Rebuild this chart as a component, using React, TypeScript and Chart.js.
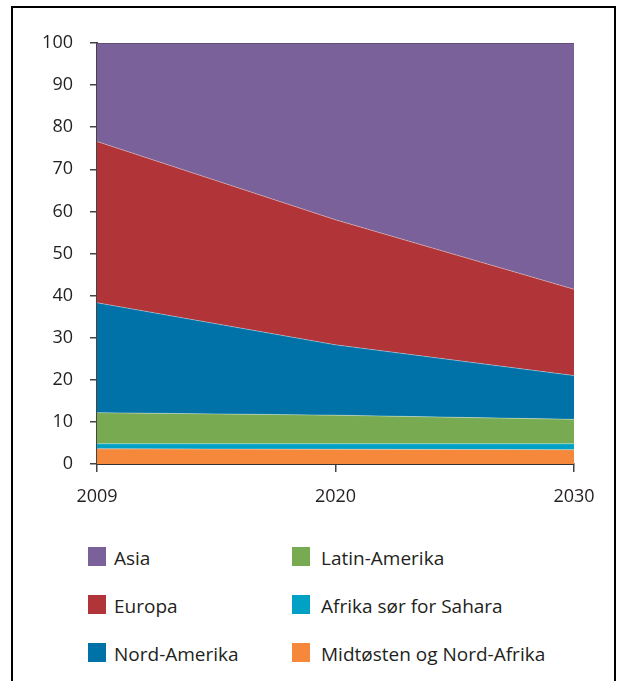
import React, { useEffect, useRef } from "react";
import { Chart, registerables } from "chart.js";

Chart.register(...registerables);

const years = ["2009", "2020", "2030"];
const midtostenNordAfrika = [3.6, 3.5, 3.4];
const afrikaSorForSahara = [1.2, 1.3, 1.4];
const latinAmerika = [7.4, 6.8, 5.8];
const nordAmerika = [26.1, 16.7, 10.4];
const europa = [38.3, 29.7, 20.5];
const asia = [23.4, 42.0, 58.5];
const yMin = 0;
const yMax = 100;
const yStep = 10;

const names = {
  asia: "Asia",
  europa: "Europa",
  nordAmerika: "Nord-Amerika",
  latinAmerika: "Latin-Amerika",
  afrika: "Afrika sør for Sahara",
  midtosten: "Midtøsten og Nord-Afrika",
};

const colors = {
  asia: "#7b6199",
  europa: "#b13538",
  nordAmerika: "#0072a8",
  latinAmerika: "#78ab51",
  afrika: "#00a1c4",
  midtosten: "#f5883b",
};

const FONT = "'Open Sans', 'DejaVu Sans', sans-serif";
const TEXT = "#231f20";

const legendItems = [
  { key: "asia", col: 0, row: 0 },
  { key: "europa", col: 0, row: 1 },
  { key: "nordAmerika", col: 0, row: 2 },
  { key: "latinAmerika", col: 1, row: 0 },
  { key: "afrika", col: 1, row: 1 },
  { key: "midtosten", col: 1, row: 2 },
];

export default function App() {
  const ref = useRef<HTMLCanvasElement | null>(null);

  useEffect(() => {
    document.body.style.overflow = "hidden";
    const ctx = ref.current;
    if (!ctx) return;
    const ds = (key: string, data: number[], fill: string, border = "rgba(255,255,255,0.35)") => ({
      label: (names as any)[key],
      data,
      backgroundColor: (colors as any)[key],
      borderColor: border,
      borderWidth: 1,
      pointRadius: 0,
      tension: 0,
      fill,
    });
    const chart = new Chart(ctx, {
      type: "line",
      data: {
        labels: years,
        datasets: [
          ds("midtosten", midtostenNordAfrika, "origin"),
          ds("afrika", afrikaSorForSahara, "-1"),
          ds("latinAmerika", latinAmerika, "-1"),
          ds("nordAmerika", nordAmerika, "-1"),
          ds("europa", europa, "-1"),
          ds("asia", asia, "-1", "#4b3f5c"),
        ],
      },
      options: {
        animation: false,
        responsive: false,
        maintainAspectRatio: false,
        layout: { padding: { left: 0, top: 43, right: 48, bottom: 16 } },
        plugins: {
          legend: { display: false },
          tooltip: { enabled: false },
        },
        scales: {
          x: {
            type: "category",
            offset: false,
            grid: {
              drawOnChartArea: false,
              drawTicks: true,
              tickLength: 8,
              color: "#444",
              lineWidth: 1.5,
            },
            border: { color: "#333", width: 2 },
            ticks: {
              font: { family: FONT, size: 18 },
              color: TEXT,
              padding: 14,
              maxRotation: 0,
              autoSkip: false,
            },
            afterFit: (s: any) => {
              s.height = 50;
            },
          },
          y: {
            stacked: true,
            min: yMin,
            max: yMax,
            grid: {
              drawOnChartArea: false,
              drawTicks: true,
              tickLength: 7,
              color: "#444",
              lineWidth: 1.5,
            },
            border: { color: "#444", width: 2 },
            ticks: {
              stepSize: yStep,
              font: { family: FONT, size: 18 },
              color: TEXT,
              padding: 17,
            },
            afterFit: (s: any) => {
              s.width = 97;
            },
          },
        },
      } as any,
    });
    return () => chart.destroy();
  }, []);

  return (
    <div style={{ position: "absolute", left: 0, top: 0, width: 622, height: 681, overflow: "hidden", background: "#fff" }}>
      <div
        style={{
          position: "absolute",
          left: 11,
          top: 6,
          width: 605,
          height: 675,
          boxSizing: "border-box",
          borderTop: "2px solid #000",
          borderLeft: "2px solid #000",
          borderRight: "2px solid #000",
        }}
      />
      <canvas
        ref={ref}
        width={622}
        height={530}
        style={{ position: "absolute", left: 0, top: 0, width: 622, height: 530, display: "block" }}
      />
      {legendItems.map((it) => {
        const left = it.col === 0 ? 88 : 292;
        const top = 547 + it.row * 48;
        return (
          <div key={it.key} style={{ position: "absolute", left, top, height: 19, display: "flex", alignItems: "center", whiteSpace: "nowrap" }}>
            <div style={{ width: 18, height: 19, background: (colors as any)[it.key] }} />
            <span style={{ marginLeft: it.col === 0 ? 8 : 11, fontFamily: FONT, fontSize: 19, color: TEXT, lineHeight: "19px", position: "relative", top: 2 }}>
              {(names as any)[it.key]}
            </span>
          </div>
        );
      })}
    </div>
  );
}
